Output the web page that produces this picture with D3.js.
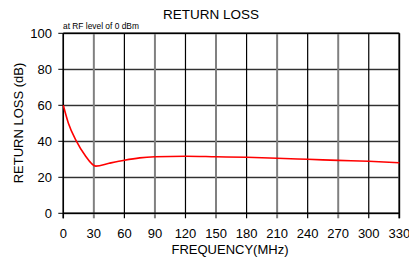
<!DOCTYPE html>
<html>
<head>
<meta charset="utf-8">
<script src="https://cdn.jsdelivr.net/npm/d3@7"></script>
<style>
body { margin: 0; background: #fff; }
text { font-family: "Liberation Sans", Arial, sans-serif; }
</style>
</head>
<body>
<script>
// data
freq = [0, 5, 13, 21, 32, 45, 60, 75, 90, 120, 150, 180, 210, 240, 270, 300, 330];
loss = [60, 50, 40, 32.5, 26.2, 27.8, 29.5, 30.8, 31.4, 31.7, 31.4, 31.1, 30.6, 30, 29.4, 28.9, 28.1];
xTicks = [0, 30, 60, 90, 120, 150, 180, 210, 240, 270, 300, 330];
yTicks = [0, 20, 40, 60, 80, 100];

var svg = d3.select("body").append("svg")
            .attr("width", 409)
            .attr("height", 258);

var x = d3.scaleLinear().domain([0, 330]).range([63.3, 399.3]);
var y = d3.scaleLinear().domain([0, 100]).range([213.3, 33.3]);

// horizontal grid lines, dark with a light shadow under them
yTicks.forEach(function(t) {
    svg.append("line").attr("x1", x(0)).attr("x2", x(330))
       .attr("y1", y(t) + 1).attr("y2", y(t) + 1)
       .attr("stroke", "#c8c8c8").attr("stroke-width", 1);
    svg.append("line").attr("x1", x(0)).attr("x2", x(330))
       .attr("y1", y(t)).attr("y2", y(t))
       .attr("stroke", "#000").attr("stroke-width", 1);
});

// vertical grid lines, gray and black alternating
xTicks.forEach(function(t, i) {
    svg.append("line").attr("x1", x(t)).attr("x2", x(t))
       .attr("y1", y(100)).attr("y2", y(0) + 5)
       .attr("stroke", i % 2 ? "#808080" : "#000")
       .attr("stroke-width", i % 2 ? 2 : 1.2);
});

// frame
svg.append("line").attr("x1", x(0)).attr("x2", x(0)).attr("y1", y(100)).attr("y2", y(0) + 5)
   .attr("stroke", "#000").attr("stroke-width", 1.5);
svg.append("line").attr("x1", x(330)).attr("x2", x(330)).attr("y1", y(100)).attr("y2", y(0) + 5)
   .attr("stroke", "#000").attr("stroke-width", 1.5);
svg.append("line").attr("x1", x(0)).attr("x2", x(330)).attr("y1", y(0)).attr("y2", y(0))
   .attr("stroke", "#000").attr("stroke-width", 1.5);
svg.append("line").attr("x1", x(0)).attr("x2", x(330)).attr("y1", y(100)).attr("y2", y(100))
   .attr("stroke", "#000").attr("stroke-width", 1.5);

// y ticks sticking out left
yTicks.forEach(function(t) {
    svg.append("line").attr("x1", x(0) - 5).attr("x2", x(0))
       .attr("y1", y(t)).attr("y2", y(t))
       .attr("stroke", "#000").attr("stroke-width", 1);
});

// tick labels
svg.append("g").selectAll("text").data(yTicks).enter().append("text")
   .attr("x", 52).attr("y", function(d) { return y(d) + 5; })
   .attr("text-anchor", "end").attr("font-size", 13).text(function(d) { return d; });
svg.append("g").selectAll("text").data(xTicks).enter().append("text")
   .attr("x", function(d) { return x(d); }).attr("y", 238)
   .attr("text-anchor", "middle").attr("font-size", 13).text(function(d) { return d; });

// the curve
var line = d3.line()
             .x(function(d) { return x(d[0]); })
             .y(function(d) { return y(d[1]); })
             .curve(d3.curveMonotoneX);
svg.append("path").datum(d3.zip(freq, loss))
   .attr("d", line)
   .attr("fill", "none")
   .attr("stroke", "#ff0000")
   .attr("stroke-width", 1.6);

// titles
svg.append("text").attr("x", 211).attr("y", 19).attr("text-anchor", "middle")
   .attr("font-size", 13.5).text("RETURN LOSS");
svg.append("text").attr("x", 63).attr("y", 29)
   .attr("font-size", 8.4).text("at RF level of 0 dBm");
svg.append("text").attr("x", 230).attr("y", 254).attr("text-anchor", "middle")
   .attr("font-size", 13).text("FREQUENCY(MHz)");
svg.append("text").attr("transform", "translate(23,123) rotate(-90)")
   .attr("text-anchor", "middle").attr("font-size", 13).text("RETURN LOSS (dB)");
</script>
</body>
</html>
